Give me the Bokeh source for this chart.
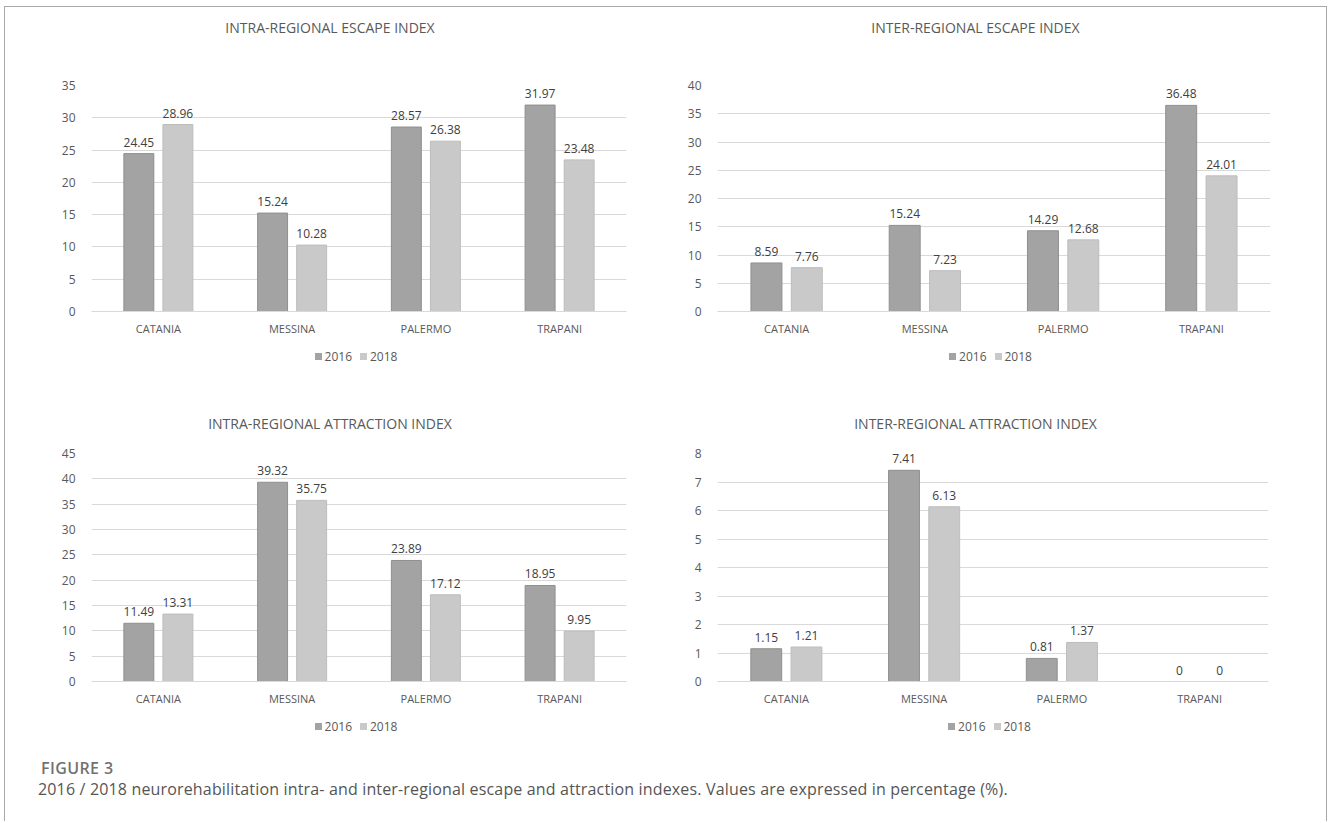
from bokeh.plotting import figure
from bokeh.layouts import column, row
from bokeh.models import ColumnDataSource, Range1d, SingleIntervalTicker, Div
from bokeh.transform import dodge
from bokeh.embed import file_html
from bokeh.resources import INLINE

# ---- data (percent) ----
provinces = ["CATANIA", "MESSINA", "PALERMO", "TRAPANI"]
years = ["2016", "2018"]

intra_escape_2016 = [24.45, 15.24, 28.57, 31.97]
intra_escape_2018 = [28.96, 10.28, 26.38, 23.48]

inter_escape_2016 = [8.59, 15.24, 14.29, 36.48]
inter_escape_2018 = [7.76, 7.23, 12.68, 24.01]

intra_attraction_2016 = [11.49, 39.32, 23.89, 18.95]
intra_attraction_2018 = [13.31, 35.75, 17.12, 9.95]

inter_attraction_2016 = [1.15, 7.41, 0.81, 0]
inter_attraction_2018 = [1.21, 6.13, 1.37, 0]

FONT = "Open Sans"
C2016 = "#a3a3a3"
C2016_EDGE = "#8f8f8f"
C2018 = "#c9c9c9"
C2018_EDGE = "#bdbdbd"
TXT = "#595959"


def fmt(v):
    return "{:g}".format(v)


def title_div(text, width, height, pad_top, shift):
    pad = ("padding-left:%dpx" % (2 * shift)) if shift > 0 else \
          ("padding-right:%dpx" % (-2 * shift))
    return Div(text=("<div style=\"font-family:'Open Sans';font-size:14px;"
                     "color:%s;line-height:20px;text-align:center;"
                     "padding-top:%dpx;%s;width:%dpx;box-sizing:border-box\">%s</div>"
                     % (TXT, pad_top, pad, width, text)),
               width=width, height=height, margin=0)


def legend_div(width, height, shift):
    pad = ("padding-left:%dpx" % (2 * shift)) if shift > 0 else \
          ("padding-right:%dpx" % (-2 * shift))
    items = []
    for yr, col in zip(years, (C2016, C2018)):
        items.append("<span style=\"display:inline-block;width:7px;height:7px;"
                     "background:%s;margin-right:3px;vertical-align:middle;"
                     "position:relative;top:-1px\"></span>"
                     "<span style=\"margin-right:8px\">%s</span>" % (col, yr))
    return Div(text=("<div style=\"font-family:'Open Sans';font-size:12px;"
                     "color:%s;line-height:16px;text-align:center;padding-top:4px;"
                     "%s;width:%dpx;box-sizing:border-box;white-space:nowrap\">%s</div>"
                     % (TXT, pad, width, "".join(items))),
               width=width, height=height, margin=0)


def panel(v16, v18, ymax, step, width, height, left, right, top, bottom):
    src = ColumnDataSource(dict(
        prov=provinces, v16=v16, v18=v18,
        t16=[fmt(v) for v in v16], t18=[fmt(v) for v in v18],
    ))
    p = figure(x_range=provinces, y_range=Range1d(0, ymax),
               width=width, height=height, output_backend="svg",
               toolbar_location=None,
               min_border_left=left, min_border_right=right,
               min_border_top=top, min_border_bottom=bottom)

    off = 0.146
    bw = 0.224
    p.vbar(x=dodge("prov", -off, range=p.x_range), top="v16", width=bw,
           source=src, fill_color=C2016, line_color=C2016_EDGE)
    p.vbar(x=dodge("prov", off, range=p.x_range), top="v18", width=bw,
           source=src, fill_color=C2018, line_color=C2018_EDGE)
    for key, sgn in (("16", -1), ("18", 1)):
        p.text(x=dodge("prov", sgn * off, range=p.x_range), y="v" + key,
               text="t" + key, source=src, text_align="center",
               text_baseline="bottom", y_offset=-7, text_font_size="12px",
               text_color="#404040", text_font={"value": FONT})

    p.outline_line_color = None
    p.xgrid.grid_line_color = None
    p.ygrid.grid_line_color = "#d9d9d9"
    p.yaxis.ticker = SingleIntervalTicker(interval=step)
    p.yaxis.axis_line_color = None
    p.yaxis.major_tick_line_color = None
    p.yaxis.minor_tick_line_color = None
    p.yaxis.major_tick_out = 0
    p.yaxis.major_label_text_font = FONT
    p.yaxis.major_label_text_font_size = "12px"
    p.yaxis.major_label_text_color = TXT
    p.yaxis.major_label_standoff = 12
    p.xaxis.axis_line_color = "#d9d9d9"
    p.xaxis.major_tick_line_color = None
    p.xaxis.minor_tick_line_color = None
    p.xaxis.major_tick_out = 0
    p.xaxis.major_label_text_font = FONT
    p.xaxis.major_label_text_font_size = "11px"
    p.xaxis.major_label_text_color = TXT
    p.xaxis.major_label_standoff = 9
    return p


W1, W2 = 660, 661

p1 = panel(intra_escape_2016, intra_escape_2018, 35, 5, W1, 298, 86, 39, 38, 34)
p2 = panel(inter_escape_2016, inter_escape_2018, 40, 5, W2, 298, 52, 56, 38, 34)
p3 = panel(intra_attraction_2016, intra_attraction_2018, 45, 5, W1, 283,
           86, 39, 21, 34)
p4 = panel(inter_attraction_2016, inter_attraction_2018, 8, 1, W2, 283,
           52, 58, 21, 34)

c1 = column(title_div("INTRA-REGIONAL ESCAPE INDEX", W1, 40, 11, -5), p1,
            legend_div(W1, 47, 25))
c2 = column(title_div("INTER-REGIONAL ESCAPE INDEX", W2, 40, 11, -20), p2,
            legend_div(W2, 47, -1))
c3 = column(title_div("INTRA-REGIONAL ATTRACTION INDEX", W1, 40, 22, -5), p3,
            legend_div(W1, 30, 25))
c4 = column(title_div("INTER-REGIONAL ATTRACTION INDEX", W2, 40, 22, -20), p4,
            legend_div(W2, 30, -2))

caption = Div(
    text=("<div style=\"font-family:'Open Sans';padding-left:33px;padding-top:13px\">"
          "<div style=\"font-size:16px;font-weight:600;color:#727272;"
          "letter-spacing:0.4px;line-height:20px;padding-left:3px\">FIGURE 3</div>"
          "<div style=\"font-size:16px;color:#555555;line-height:22px;"
          "letter-spacing:0.16px;white-space:nowrap\">"
          "2016 / 2018 neurorehabilitation intra- and inter-regional escape "
          "and attraction indexes. Values are expressed in percentage (%)."
          "</div></div>"),
    width=W1 + W2, height=76, margin=0)

layout = column(row(c1, c2), row(c3, c4), caption, margin=(6, 0, 0, 4),
                styles={"border-top": "1px solid #a8a8a8",
                        "border-left": "1px solid #a8a8a8",
                        "border-right": "1px solid #a8a8a8"})

open("out.html", "w").write(file_html(layout, INLINE))
